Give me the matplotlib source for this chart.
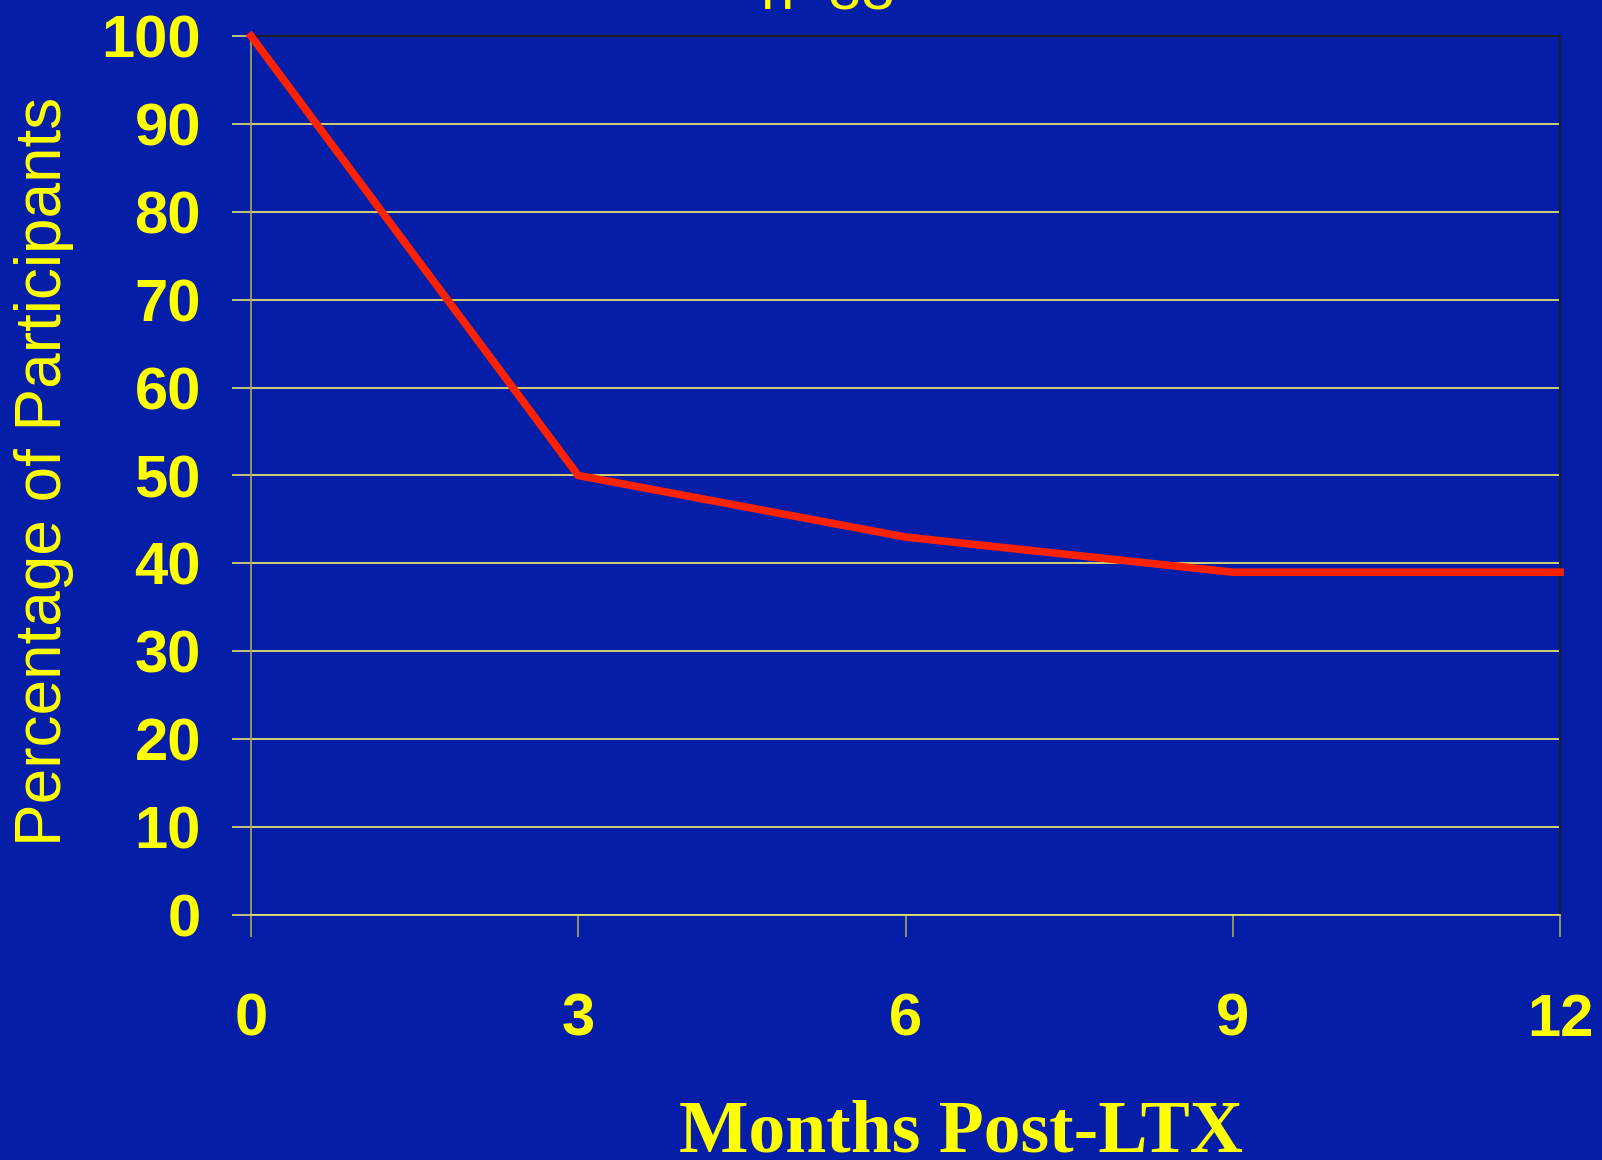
import matplotlib
matplotlib.use('Agg')
import matplotlib.pyplot as plt

months = [0, 3, 6, 9, 12]
pct = [100, 50, 43, 39, 39]
y_ticks = list(range(0, 101, 10))
title = 'n=83'

BG = '#041ea8'
YEL = '#ffff00'
GRID = '#e0e070'
SPINE = '#a8a850'

fig = plt.figure(figsize=(16.02, 11.6), dpi=100, facecolor=BG)
ax = fig.add_axes([251 / 1602, 1 - 915 / 1160, (1560 - 251) / 1602, (915 - 36) / 1160])
ax.set_facecolor(BG)

ax.plot(months, pct, color='#ff2200', lw=5.5, clip_on=False, zorder=5)

ax.set_xlim(0, 12)
ax.set_ylim(0, 100)
ax.set_xticks(months)
ax.set_yticks(y_ticks)
ax.yaxis.grid(True, color=GRID, lw=1.3)
ax.set_axisbelow(True)

for s in ['top', 'right']:
    ax.spines[s].set_color('#202020')
    ax.spines[s].set_linewidth(1.5)
ax.spines['left'].set_color(SPINE)
ax.spines['left'].set_linewidth(1.2)
ax.spines['bottom'].set_color(GRID)
ax.spines['bottom'].set_linewidth(1.3)

ax.tick_params(axis='x', length=16, width=1.2, color=SPINE, pad=40)
ax.tick_params(axis='y', length=14, width=1.2, color=GRID, pad=22)
for lab in ax.get_xticklabels() + ax.get_yticklabels():
    lab.set_family('Liberation Sans')
    lab.set_weight('bold')
    lab.set_fontsize(43)
    lab.set_color(YEL)

fig.text(44 / 1602, 1 - 471 / 1160, 'Percentage of Participants', rotation=90,
         ha='center', va='center', color=YEL, fontsize=46, family='Liberation Sans')
fig.text(961 / 1602, 1 - 1151 / 1160, 'Months Post-LTX', ha='center', va='baseline',
         color=YEL, fontsize=53, family='Liberation Serif', weight='bold')
fig.text(827 / 1602, 1 - 10 / 1160, title, ha='center', va='baseline',
         color=YEL, fontsize=43, family='Liberation Sans')

fig.savefig('out.png', dpi=100, facecolor=BG)
